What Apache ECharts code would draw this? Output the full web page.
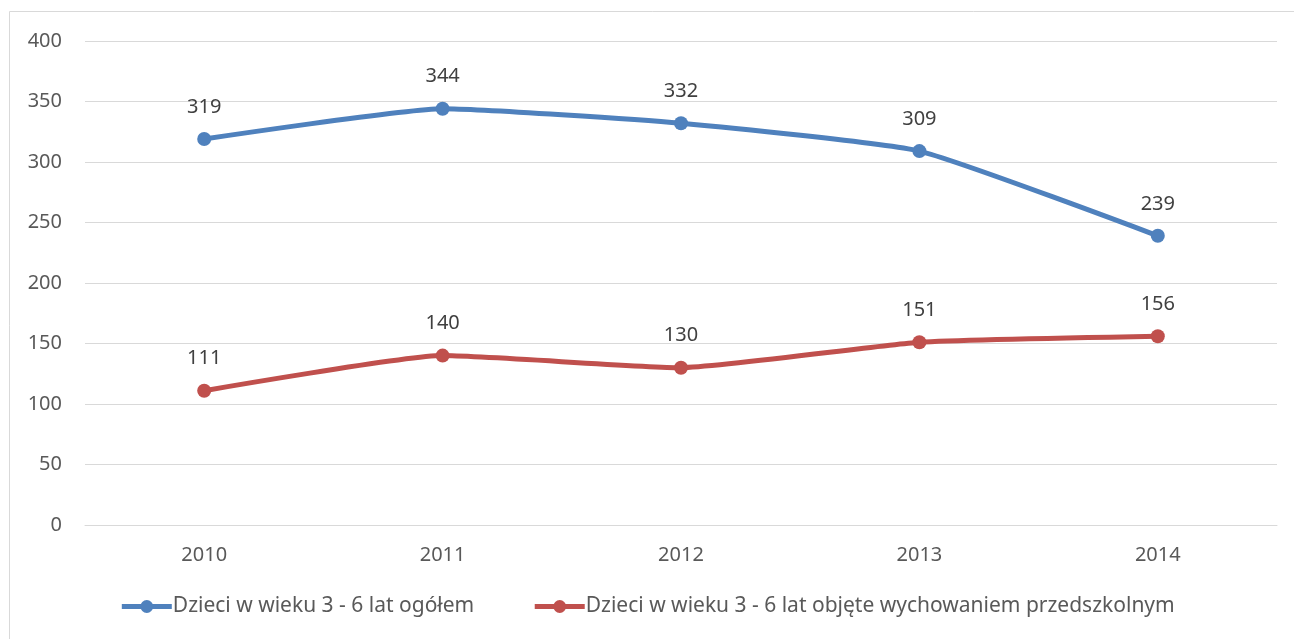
<!DOCTYPE html>
<html>
<head>
<meta charset="utf-8">
<script src="https://cdn.jsdelivr.net/npm/echarts@6/dist/echarts.min.js"></script>
<style>
  html, body { margin: 0; padding: 0; background: #fff; }
  #chart { width: 1294px; height: 639px; }
</style>
</head>
<body>
<div id="chart"></div>
<script>
const years = ['2010', '2011', '2012', '2013', '2014']
const ogolem = [319, 344, 332, 309, 239]
const objete = [111, 140, 130, 151, 156]
const names = [
  'Dzieci w wieku 3 - 6 lat ogółem',
  'Dzieci w wieku 3 - 6 lat objęte wychowaniem przedszkolnym'
]

const chart = echarts.init(document.getElementById('chart'))
const font = 'Noto Sans, sans-serif'

const makeSeries = (name, data, color) => ({
  name: name,
  type: 'line',
  data: data,
  smooth: 0.15,
  symbol: 'circle',
  symbolSize: 14,
  lineStyle: { width: 5, color: color },
  itemStyle: { color: color },
  label: {
    show: true,
    position: 'top',
    distance: 15,
    fontSize: 20,
    fontFamily: font,
    color: '#404040'
  }
})

chart.setOption({
  animation: false,
  graphic: [{
    type: 'rect',
    shape: { x: 9.5, y: 11.5, width: 1300, height: 700 },
    style: { fill: 'none', stroke: '#d9d9d9', lineWidth: 1 },
    silent: true
  }],
  grid: { left: 85, right: 17, top: 41, bottom: 114 },
  legend: {
    data: names,
    bottom: 17,
    left: 'center',
    itemWidth: 50,
    itemHeight: 16,
    itemGap: 58,
    itemStyle: { borderWidth: 0 },
    lineStyle: { width: 5 },
    textStyle: { fontSize: 21, fontFamily: font, color: '#595959', padding: [0, 0, 0, -4] }
  },
  xAxis: {
    type: 'category',
    data: years,
    axisLine: { lineStyle: { color: '#d9d9d9', width: 1 } },
    axisTick: { show: false },
    axisLabel: { fontSize: 20, fontFamily: font, color: '#595959', margin: 20 }
  },
  yAxis: {
    type: 'value',
    min: 0,
    max: 400,
    interval: 50,
    axisLine: { show: false },
    axisTick: { show: false },
    splitLine: { lineStyle: { color: '#d9d9d9', width: 1 } },
    axisLabel: { fontSize: 20, fontFamily: font, color: '#595959', margin: 23 }
  },
  series: [
    makeSeries(names[0], ogolem, '#4f81bd'),
    makeSeries(names[1], objete, '#c0504d')
  ]
})
</script>
</body>
</html>
